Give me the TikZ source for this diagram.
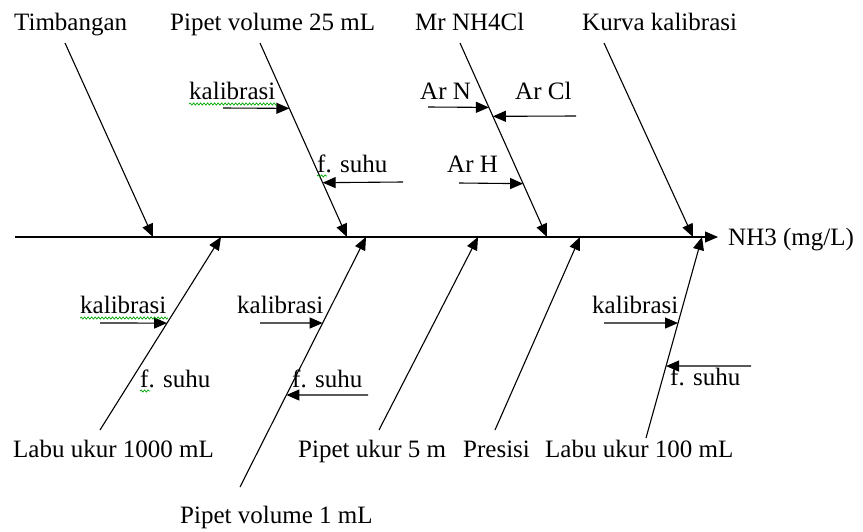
\documentclass[tikz,border=0pt]{standalone}
\usepackage{fontspec}
\setmainfont{Liberation Serif}
\usetikzlibrary{arrows.meta,decorations.pathmorphing,calc}
\begin{document}
\begin{tikzpicture}[x=1pt,y=-1pt,
  lbl/.style={anchor=base west,inner sep=0pt,font=\fontsize{25}{30}\selectfont},
  tip/.style={-{Triangle[length=13pt,width=11pt]}},
  bone/.style={line width=1.1pt,tip},
  twig/.style={line width=1.1pt,tip},
  spell/.style={draw=green!65!black,line width=0.7pt,decorate,
    decoration={snake,amplitude=1.1pt,segment length=3.5pt}}]
\useasboundingbox (0,0) rectangle (863,531);

% spine
\coordinate (s0) at (15,237);
\coordinate (s1) at (718,237);
\node[lbl] (nh3) at (728,245) {NH3 (mg/L)};
\draw[bone] (s0) -- (s1);

% upper bones: labels, tails and heads on the spine
\node[lbl] (timb)  at (14,30)  {Timbangan};
\node[lbl] (pv25)  at (170,30) {Pipet volume 25 mL};
\node[lbl] (mr)    at (415,30) {Mr NH4Cl};
\node[lbl] (kurva) at (582,30) {Kurva kalibrasi};
\coordinate (u1a) at (65,43);  \coordinate (u1b) at (153,237);
\coordinate (u2a) at (260,43); \coordinate (u2b) at (347,237);
\coordinate (u3a) at (460,43); \coordinate (u3b) at (547,237);
\coordinate (u4a) at (604,43); \coordinate (u4b) at (693,237);
\foreach \i in {1,...,4} \draw[bone] (u\i a) -- (u\i b);

% lower bones
\node[lbl] (labu1000) at (13,457)  {Labu ukur 1000 mL};
\node[lbl] (pv1)      at (180,523) {Pipet volume 1 mL};
\node[lbl] (pu5)      at (298,457) {Pipet ukur 5 m};
\node[lbl] (presisi)  at (463,457) {Presisi};
\node[lbl] (labu100)  at (545,457) {Labu ukur 100 mL};
\coordinate (d1a) at (100,430); \coordinate (d1b) at (221,237);
\coordinate (d2a) at (240,487); \coordinate (d2b) at (366,237);
\coordinate (d3a) at (379,430); \coordinate (d3b) at (478,237);
\coordinate (d4a) at (495,430); \coordinate (d4b) at (580,237);
\coordinate (d5a) at (646,438); \coordinate (d5b) at (702,237);
\foreach \i in {1,...,5} \draw[bone] (d\i a) -- (d\i b);

% sub-causes on the upper bones
\node[lbl] (kal1) at (189,99)  {kalibrasi};
\node[lbl] (fs1)  at (317,172) {f. suhu};
\node[lbl] (arN)  at (420,99)  {Ar N};
\node[lbl] (arCl) at (515,99)  {Ar Cl};
\node[lbl] (arH)  at (447,172) {Ar H};
\coordinate (k1) at (223,108); \draw[twig] (k1) -- ($(u2a)!0.337!(u2b)$);
\coordinate (f1) at (403,182); \draw[twig] (f1) -- ($(u2a)!0.720!(u2b)$);
\coordinate (n1) at (428,107); \draw[twig] (n1) -- ($(u3a)!0.332!(u3b)$);
\coordinate (c1) at (576,116); \draw[twig] (c1) -- ($(u3a)!0.378!(u3b)$);
\coordinate (h1) at (459,183); \draw[twig] (h1) -- ($(u3a)!0.725!(u3b)$);

% sub-causes on the lower bones
\node[lbl] (kal2) at (80,313)  {kalibrasi};
\node[lbl] (fs2)  at (140,387) {f. suhu};
\node[lbl] (kal3) at (237,313) {kalibrasi};
\node[lbl] (fs3)  at (292,387) {f. suhu};
\node[lbl] (kal4) at (592,313) {kalibrasi};
\node[lbl] (fs4)  at (670,385) {f. suhu};
\coordinate (k2) at (100,323); \draw[twig] (k2) -- ($(d1a)!0.554!(d1b)$);
\coordinate (k3) at (260,323); \draw[twig] (k3) -- ($(d2a)!0.656!(d2b)$);
\coordinate (f3) at (368,395); \draw[twig] (f3) -- ($(d2a)!0.368!(d2b)$);
\coordinate (k4) at (604,323); \draw[twig] (k4) -- ($(d5a)!0.572!(d5b)$);
\coordinate (f4) at (751,366); \draw[twig] (f4) -- ($(d5a)!0.358!(d5b)$);

% spell-check underlines
\draw[spell] (189,104) -- (277,104);
\draw[spell] (317,176) -- (327,176);
\draw[spell] (80,318) -- (168,318);
\draw[spell] (140,391) -- (150,391);
\end{tikzpicture}
\end{document}
